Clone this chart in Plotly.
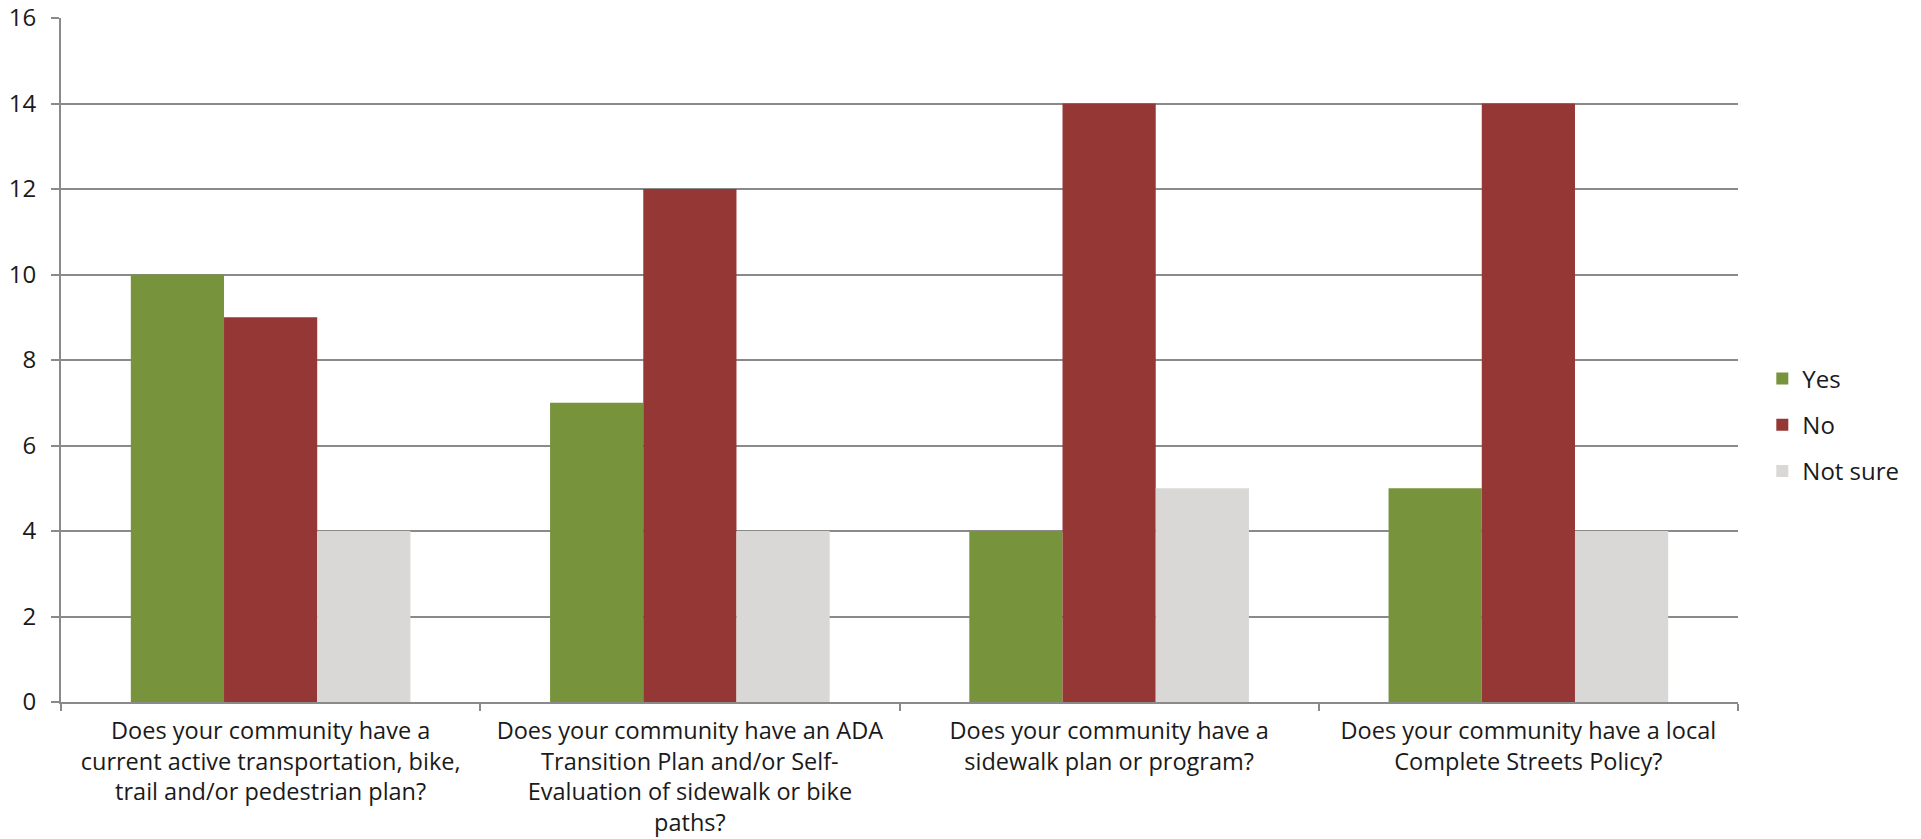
import plotly.graph_objects as go

categories = [
    "Does your community have a<br>current active transportation, bike,<br>trail and/or pedestrian plan?",
    "Does your community have an ADA<br>Transition Plan and/or Self-<br>Evaluation of sidewalk or bike<br>paths?",
    "Does your community have a<br>sidewalk plan or program?",
    "Does your community have a local<br>Complete Streets Policy?",
]
yes_vals = [10, 7, 4, 5]
no_vals = [9, 12, 14, 14]
not_sure_vals = [4, 4, 5, 4]
y_ticks = [0, 2, 4, 6, 8, 10, 12, 14, 16]

FONT = "Open Sans"
FS = 24
XFS = 23.5
TXT = "#1a1a1a"
GRID = "#8a8a8a"

fig = go.Figure()
series = [("Yes", yes_vals, "#77933C"), ("No", no_vals, "#953735"), ("Not sure", not_sure_vals, "#D9D8D6")]
for name, vals, col in series:
    fig.add_trace(go.Bar(x=categories, y=vals, name=name, marker=dict(color=col, line=dict(width=0)),
                         legendgroup=name))

fig.update_layout(
    width=1921, height=839,
    margin=dict(l=61, r=183, t=18, b=137),
    paper_bgcolor="white", plot_bgcolor="white",
    barmode="group", bargap=0.333, bargroupgap=0,
    font=dict(family=FONT, size=FS, color=TXT),
    legend=dict(x=1.0145, xanchor="left", y=0.405, yanchor="middle",
                traceorder="grouped", tracegroupgap=12,
                font=dict(family=FONT, size=FS, color=TXT)),
    showlegend=True,
)
fig.update_xaxes(showline=True, linecolor=GRID, linewidth=2, automargin=False,
                 ticks="outside", tickson="boundaries", ticklen=7, tickcolor=GRID, tickwidth=2,
                 tickfont=dict(family=FONT, size=XFS, color=TXT), ticklabelstandoff=7)
fig.update_yaxes(range=[0, 16], tickvals=y_ticks, showgrid=True, gridcolor=GRID, gridwidth=2,
                 showline=True, linecolor=GRID, linewidth=2, zeroline=False, automargin=False,
                 ticks="outside", ticklen=8, tickcolor=GRID, tickwidth=2,
                 tickfont=dict(family=FONT, size=FS, color=TXT), ticklabelstandoff=10)

fig.write_html("out.html")
